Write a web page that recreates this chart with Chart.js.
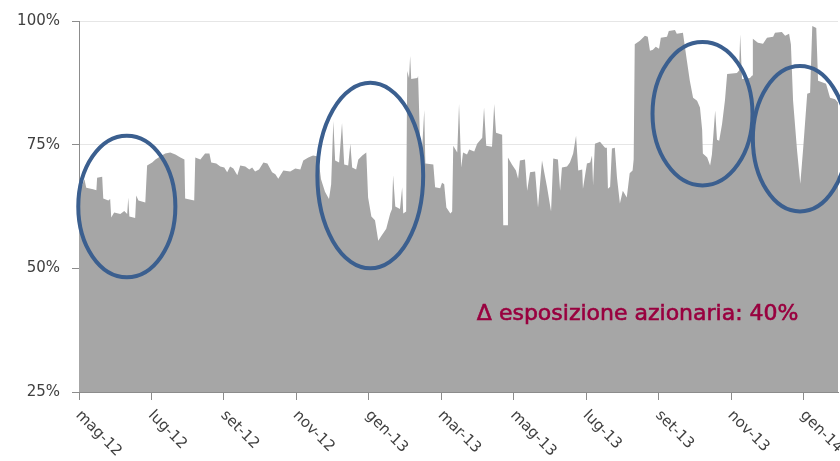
<!DOCTYPE html>
<html>
<head>
<meta charset="utf-8">
<script src="https://cdn.jsdelivr.net/npm/chart.js@4/dist/chart.umd.min.js"></script>
<style>
  html, body { margin: 0; padding: 0; background: #fff; }
  #wrap { width: 840px; height: 461px; }
</style>
</head>
<body>
<div id="wrap"><canvas id="chart" width="840" height="461"></canvas></div>
<script>
// x position in months from start of May 2012
const xMonths = [
  0, 0.09, 0.15, 0.20, 0.39, 0.48, 0.50, 0.64, 0.67, 0.81,
  0.86, 0.89, 0.97, 1.14, 1.25, 1.33, 1.36, 1.39, 1.55, 1.58,
  1.64, 1.83, 1.88, 2.02, 2.11, 2.24, 2.38, 2.52, 2.66, 2.80,
  2.91, 2.93, 3.18, 3.21, 3.35, 3.48, 3.60, 3.65, 3.79, 3.90,
  4.01, 4.09, 4.17, 4.26, 4.37, 4.45, 4.59, 4.70, 4.78, 4.86,
  4.97, 5.09, 5.20, 5.33, 5.42, 5.50, 5.64, 5.83, 5.97, 6.11,
  6.19, 6.33, 6.46, 6.60, 6.68, 6.79, 6.90, 6.96, 7.02, 7.07,
  7.18, 7.26, 7.32, 7.43, 7.49, 7.54, 7.65, 7.71, 7.82, 7.93,
  7.98, 8.07, 8.17, 8.26, 8.34, 8.48, 8.59, 8.64, 8.67, 8.73,
  8.86, 8.92, 8.95, 9.03, 9.06, 9.11, 9.14, 9.17, 9.34, 9.36,
  9.42, 9.47, 9.53, 9.56, 9.78, 9.83, 9.97, 10.02, 10.08, 10.14,
  10.25, 10.30, 10.33, 10.44, 10.49, 10.55, 10.60, 10.71, 10.77, 10.91,
  10.99, 11.13, 11.18, 11.24, 11.40, 11.46, 11.51, 11.68, 11.71, 11.82,
  11.84, 11.95, 12.06, 12.12, 12.17, 12.31, 12.37, 12.45, 12.59, 12.67,
  12.78, 12.92, 13.03, 13.09, 13.22, 13.28, 13.33, 13.47, 13.55, 13.64,
  13.72, 13.78, 13.89, 13.91, 14.02, 14.11, 14.16, 14.19, 14.24, 14.38,
  14.52, 14.57, 14.60, 14.66, 14.71, 14.79, 14.85, 14.93, 15.01, 15.12,
  15.20, 15.28, 15.31, 15.34, 15.48, 15.62, 15.70, 15.76, 15.84, 15.92,
  16.01, 16.06, 16.23, 16.28, 16.45, 16.50, 16.67, 16.72, 16.78, 16.86,
  16.95, 17.06, 17.14, 17.20, 17.22, 17.34, 17.42, 17.47, 17.56, 17.61,
  17.67, 17.75, 17.83, 17.89, 18.16, 18.22, 18.25, 18.30, 18.52, 18.58,
  18.60, 18.74, 18.88, 18.99, 19.16, 19.21, 19.40, 19.49, 19.60, 19.65,
  19.71, 19.82, 19.91, 19.99, 20.10, 20.18, 20.24, 20.35, 20.40, 20.62,
  20.73, 20.87, 20.95
];

// equity exposure, %
const equityPct = [
  66.4, 66.8, 68.0, 66.3, 66.0, 65.8, 68.3, 68.5, 64.1, 63.7,
  64.0, 60.3, 61.3, 61.0, 61.6, 61.0, 64.3, 60.5, 60.2, 64.7,
  63.7, 63.3, 70.8, 71.4, 72.0, 72.6, 73.2, 73.4, 73.0, 72.4,
  72.0, 64.1, 63.7, 72.4, 72.0, 73.2, 73.2, 71.4, 71.2, 70.6,
  70.4, 69.4, 70.6, 70.2, 68.8, 70.8, 70.6, 70.0, 70.4, 69.6,
  70.0, 71.4, 71.2, 69.4, 69.0, 68.1, 69.8, 69.6, 70.2, 70.0,
  71.8, 72.4, 72.8, 72.6, 68.0, 65.5, 64.0, 67.0, 79.8, 71.8,
  71.4, 79.4, 71.0, 70.8, 75.2, 70.4, 70.0, 72.0, 72.8, 73.4,
  64.3, 60.5, 59.7, 55.6, 56.5, 58.0, 61.1, 62.0, 68.8, 62.5,
  62.0, 66.4, 61.1, 61.5, 89.9, 88.5, 92.9, 88.3, 88.5, 88.9,
  73.8, 74.0, 82.0, 71.2, 71.0, 66.4, 66.2, 67.3, 67.0, 62.3,
  61.1, 61.5, 74.8, 73.4, 83.2, 70.4, 73.4, 73.0, 74.0, 73.6,
  75.2, 76.4, 82.5, 74.8, 74.6, 83.2, 77.4, 77.0, 58.7, 58.7,
  72.4, 71.0, 69.8, 68.1, 71.8, 72.0, 65.7, 69.4, 69.6, 62.3,
  71.8, 66.4, 61.5, 72.2, 72.0, 65.7, 70.4, 70.6, 71.4, 73.2,
  76.8, 69.8, 70.0, 66.1, 71.2, 71.4, 72.8, 66.8, 75.2, 75.6,
  74.4, 74.4, 66.1, 66.5, 74.2, 74.4, 68.3, 63.1, 65.7, 64.3,
  69.2, 69.8, 72.0, 95.3, 96.0, 97.0, 96.8, 94.0, 94.2, 94.8,
  94.4, 96.6, 96.8, 98.0, 98.2, 97.4, 97.6, 95.0, 91.9, 87.9,
  84.5, 83.9, 82.5, 78.0, 73.2, 72.4, 70.8, 73.0, 81.9, 76.0,
  75.8, 79.2, 84.0, 89.3, 89.5, 90.0, 97.3, 88.3, 88.5, 89.0,
  96.4, 95.6, 95.4, 96.6, 96.8, 97.6, 97.8, 97.0, 97.4, 95.3,
  83.9, 73.8, 67.1, 74.4, 85.3, 85.5, 99.0, 98.6, 87.9, 87.3,
  84.5, 84.2, 83.5
];

const tickLabels = ["mag-12", "lug-12", "set-12", "nov-12", "gen-13", "mar-13",
                    "mag-13", "lug-13", "set-13", "nov-13", "gen-14"];
const yTicks = [25, 50, 75, 100];

// circled periods: centre (month, %) and radii (months, %)
const highlights = [
  { x: 1.32,  y: 62.5,  rx: 1.34, ry: 14.3 },
  { x: 8.04,  y: 68.75, rx: 1.46, ry: 18.75 },
  { x: 17.21, y: 81.25, rx: 1.38, ry: 14.5 },
  { x: 19.90, y: 76.2,  rx: 1.30, ry: 14.7 },
];
const note = { text: "\u0394 esposizione azionaria: 40%", x: 15.42, y: 40.7 };

const FONT = "'DejaVu Sans', Verdana, sans-serif";
const TEXT = "#404040";
const AXIS = "#8c8c8c";

const overlay = {
  id: "overlay",
  afterDatasetsDraw(chart) {
    const { ctx, scales: { x, y } } = chart;
    ctx.save();
    ctx.strokeStyle = "#3b5f8f";
    ctx.lineWidth = 4;
    highlights.forEach(h => {
      const cx = x.getPixelForValue(h.x), cy = y.getPixelForValue(h.y);
      const rx = x.getPixelForValue(h.x + h.rx) - cx;
      const ry = cy - y.getPixelForValue(h.y + h.ry);
      ctx.beginPath();
      ctx.ellipse(cx, cy, rx, ry, 0, 0, Math.PI * 2);
      ctx.stroke();
    });
    // slightly heavier than regular weight, like the original
    const nx = x.getPixelForValue(note.x), ny = y.getPixelForValue(note.y);
    ctx.fillStyle = "#99003f";
    ctx.strokeStyle = "#99003f";
    ctx.lineWidth = 0.6;
    ctx.font = "22px " + FONT;
    ctx.textAlign = "center";
    ctx.textBaseline = "middle";
    ctx.fillText(note.text, nx, ny);
    ctx.strokeText(note.text, nx, ny);
    ctx.restore();
  },
  afterDraw(chart) {
    const { ctx, scales: { x } } = chart;
    ctx.save();
    ctx.fillStyle = TEXT;
    ctx.font = "15px " + FONT;
    ctx.textAlign = "left";
    ctx.textBaseline = "middle";
    tickLabels.forEach((lab, i) => {
      const px = x.getPixelForValue(i * 2);
      ctx.save();
      ctx.translate(px - 1, x.bottom - x.height + 21);
      ctx.rotate(Math.PI / 4);
      ctx.fillText(lab, 0, 0);
      ctx.restore();
    });
    ctx.restore();
  },
};

new Chart(document.getElementById("chart"), {
  type: "line",
  data: {
    datasets: [{
      data: xMonths.map((m, i) => ({ x: m, y: equityPct[i] })),
      backgroundColor: "#a6a6a6",
      borderWidth: 0,
      pointRadius: 0,
      fill: "start",
      tension: 0,
    }],
  },
  options: {
    responsive: false,
    animation: false,
    layout: { padding: { top: 20, right: 2, left: 0, bottom: 0 } },
    plugins: { legend: { display: false }, tooltip: { enabled: false } },
    scales: {
      x: {
        type: "linear",
        min: 0,
        max: 20.95,
        afterBuildTicks: s => { s.ticks = tickLabels.map((_, i) => ({ value: i * 2 })); },
        afterFit: s => { s.height = 69; },
        ticks: { display: false },
        grid: { drawOnChartArea: false, drawTicks: true, tickLength: 8, color: AXIS },
        border: { display: true, color: AXIS },
      },
      y: {
        min: 25,
        max: 100,
        afterBuildTicks: s => { s.ticks = yTicks.map(v => ({ value: v })); },
        afterFit: s => { s.width = 79; },
        ticks: {
          padding: 12,
          color: TEXT,
          font: { family: FONT, size: 15 },
          callback: v => v + "%",
        },
        grid: { color: "#e6e6e6", tickColor: AXIS, tickLength: 7 },
        border: { display: true, color: AXIS },
      },
    },
  },
  plugins: [overlay],
});
</script>
</body>
</html>
